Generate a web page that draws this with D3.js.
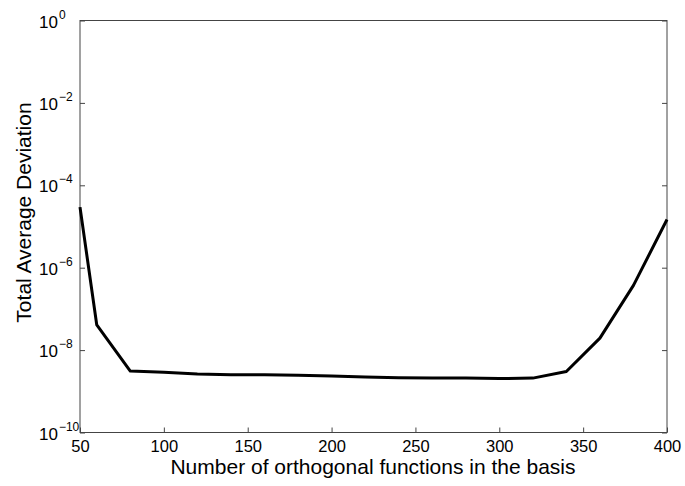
<!DOCTYPE html>
<html>
<head>
<meta charset="utf-8">
<script src="https://cdn.jsdelivr.net/npm/d3@7"></script>
<style>
  html, body { margin: 0; padding: 0; background: #fff; }
  svg { display: block; font-family: "Liberation Sans", Arial, Helvetica, sans-serif; }
</style>
</head>
<body>
<svg id="chart" width="685" height="486"></svg>
<script>
// Data
const basisSizes = [50, 60, 80, 100, 120, 140, 160, 180, 200, 220, 240, 260, 280, 300, 320, 340, 360, 380, 400];
const logDeviation = [-4.53, -7.39, -8.51, -8.54, -8.58, -8.60, -8.60, -8.61, -8.63, -8.65, -8.67, -8.68, -8.68, -8.69, -8.68, -8.52, -7.71, -6.43, -4.83];
const deviation = logDeviation.map(v => Math.pow(10, v));
const xTicks = [50, 100, 150, 200, 250, 300, 350, 400];
const yTickExponents = [0, -2, -4, -6, -8, -10];
const xTitle = "Number of orthogonal functions in the basis";
const yTitle = "Total Average Deviation";

const svg = d3.select("#chart");
const mLeft = 80, mRight = 667, mTop = 20.5, mBottom = 432.5;

const x = d3.scaleLinear().domain([50, 400]).range([mLeft, mRight]);
const y = d3.scaleLog().domain([1e-10, 1]).range([mBottom, mTop]);

const axisColor = "#444";
const tickLen = 5;

// Box
svg.append("rect")
  .attr("x", mLeft).attr("y", mTop)
  .attr("width", mRight - mLeft).attr("height", mBottom - mTop)
  .attr("fill", "none").attr("stroke", axisColor).attr("stroke-width", 1);

// Bottom axis (ticks inward)
const xAxis = d3.axisBottom(x).tickValues(xTicks).tickSizeInner(-tickLen).tickSizeOuter(0).tickPadding(7.5);
const gx = svg.append("g").attr("transform", `translate(0,${mBottom})`).call(xAxis);
gx.select(".domain").remove();
gx.selectAll(".tick line").attr("stroke", axisColor);
gx.selectAll(".tick text").attr("font-size", 16.5).attr("fill", "#000")
  .attr("font-family", "Liberation Sans, Arial, sans-serif");

// Left axis ticks
const yTickVals = yTickExponents.map(e => Math.pow(10, e));
const yAxisL = d3.axisLeft(y).tickValues(yTickVals).tickSizeInner(-tickLen).tickSizeOuter(0).tickFormat("");
const gyl = svg.append("g").attr("transform", `translate(${mLeft},0)`).call(yAxisL);
gyl.select(".domain").remove();
gyl.selectAll(".tick line").attr("stroke", axisColor);

// Right axis ticks
const yAxisR = d3.axisRight(y).tickValues(yTickVals).tickSizeInner(-tickLen).tickSizeOuter(0).tickFormat("");
const gyr = svg.append("g").attr("transform", `translate(${mRight},0)`).call(yAxisR);
gyr.select(".domain").remove();
gyr.selectAll(".tick line").attr("stroke", axisColor);

// Y tick labels as 10^n
yTickExponents.forEach(e => {
  const t = svg.append("text")
    .attr("x", 39).attr("y", y(Math.pow(10, e)) + 7)
    .attr("font-size", 17).attr("fill", "#000");
  t.append("tspan").text("10");
  t.append("tspan").attr("dy", -9).attr("dx", 1).attr("font-size", 12)
    .text(e === 0 ? "0" : "\u2212" + Math.abs(e));
});

// Line
const line = d3.line()
  .x((d, i) => x(basisSizes[i]))
  .y(d => y(d));
svg.append("path")
  .datum(deviation)
  .attr("d", line)
  .attr("fill", "none")
  .attr("stroke", "#000")
  .attr("stroke-width", 3)
  .attr("stroke-linejoin", "round");

// Titles
svg.append("text")
  .attr("x", 373).attr("y", 474)
  .attr("text-anchor", "middle").attr("font-size", 21).attr("fill", "#000")
  .text(xTitle);

svg.append("text")
  .attr("transform", `translate(31,212.5) rotate(-90)`)
  .attr("text-anchor", "middle").attr("font-size", 21).attr("fill", "#000")
  .text(yTitle);
</script>
</body>
</html>
